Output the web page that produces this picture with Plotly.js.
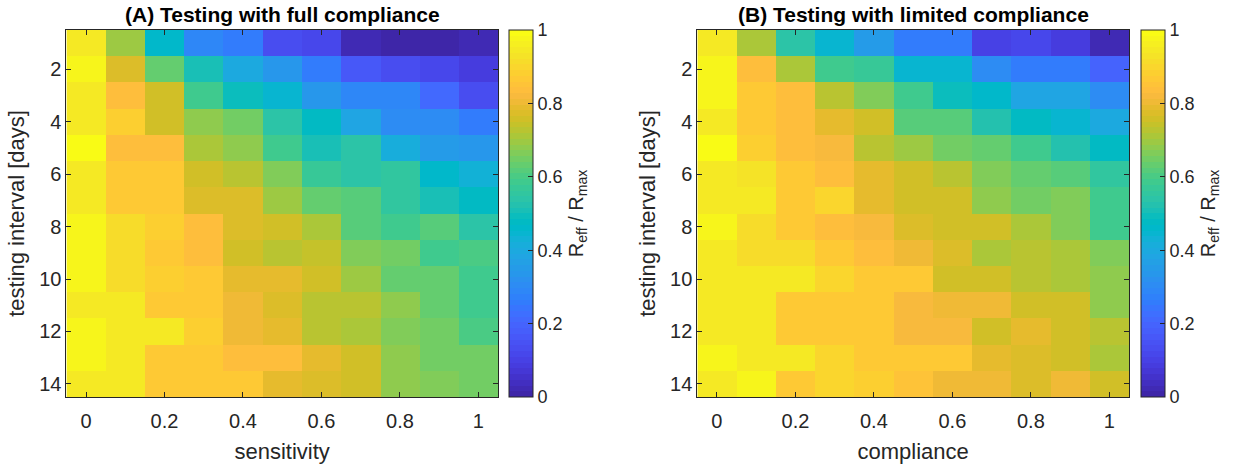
<!DOCTYPE html>
<html>
<head>
<meta charset="utf-8">
<script src="https://cdn.plot.ly/plotly-3.0.1.min.js"></script>
<style>html,body{margin:0;padding:0;background:#fff;}#chart{width:1250px;height:465px;}</style>
</head>
<body>
<div id="chart"></div>
<script>
// ---- data ----
const sensitivity = [0, 0.1, 0.2, 0.3, 0.4, 0.5, 0.6, 0.7, 0.8, 0.9, 1];
const compliance = [0, 0.1, 0.2, 0.3, 0.4, 0.5, 0.6, 0.7, 0.8, 0.9, 1];
const testingInterval = [1, 2, 3, 4, 5, 6, 7, 8, 9, 10, 11, 12, 13, 14];
const xTicks = [0, 0.2, 0.4, 0.6, 0.8, 1];
const yTicks = [2, 4, 6, 8, 10, 12, 14];
const cbTicks = [0, 0.2, 0.4, 0.6, 0.8, 1];

// R_eff / R_max, rows = testing interval 1..14, columns = sensitivity 0..1
const fullCompliance = [
  [0.94, 0.70, 0.46, 0.29, 0.26, 0.14, 0.11, 0.03, 0.00, 0.00, 0.03],
  [0.98, 0.78, 0.63, 0.51, 0.40, 0.33, 0.25, 0.16, 0.14, 0.12, 0.08],
  [0.95, 0.83, 0.75, 0.59, 0.49, 0.44, 0.33, 0.29, 0.29, 0.21, 0.14],
  [0.95, 0.88, 0.75, 0.68, 0.65, 0.54, 0.48, 0.38, 0.30, 0.31, 0.25],
  [1.00, 0.83, 0.83, 0.71, 0.68, 0.58, 0.51, 0.54, 0.41, 0.35, 0.33],
  [0.94, 0.87, 0.87, 0.76, 0.73, 0.67, 0.57, 0.54, 0.55, 0.46, 0.43],
  [0.94, 0.87, 0.87, 0.78, 0.78, 0.69, 0.63, 0.61, 0.55, 0.51, 0.48],
  [0.97, 0.92, 0.89, 0.83, 0.78, 0.76, 0.71, 0.62, 0.59, 0.62, 0.54],
  [0.98, 0.92, 0.87, 0.83, 0.76, 0.73, 0.74, 0.67, 0.65, 0.59, 0.60],
  [0.98, 0.92, 0.89, 0.86, 0.79, 0.79, 0.76, 0.70, 0.63, 0.63, 0.58],
  [0.95, 0.95, 0.87, 0.86, 0.81, 0.77, 0.73, 0.73, 0.68, 0.63, 0.58],
  [0.97, 0.95, 0.94, 0.89, 0.81, 0.79, 0.73, 0.71, 0.67, 0.65, 0.60],
  [0.97, 0.95, 0.87, 0.87, 0.83, 0.83, 0.79, 0.75, 0.68, 0.65, 0.65],
  [0.94, 0.94, 0.87, 0.87, 0.87, 0.79, 0.77, 0.75, 0.68, 0.67, 0.65]
];

// R_eff / R_max, rows = testing interval 1..14, columns = compliance 0..1
const limitedCompliance = [
  [0.94, 0.71, 0.54, 0.45, 0.35, 0.25, 0.25, 0.10, 0.12, 0.08, 0.03],
  [0.97, 0.83, 0.71, 0.59, 0.57, 0.44, 0.44, 0.30, 0.25, 0.25, 0.19],
  [0.98, 0.87, 0.83, 0.73, 0.67, 0.58, 0.49, 0.46, 0.39, 0.39, 0.30],
  [0.95, 0.87, 0.83, 0.79, 0.75, 0.62, 0.61, 0.52, 0.48, 0.44, 0.40],
  [0.99, 0.89, 0.83, 0.82, 0.72, 0.70, 0.65, 0.63, 0.59, 0.52, 0.48],
  [0.94, 0.93, 0.87, 0.83, 0.79, 0.75, 0.73, 0.67, 0.63, 0.62, 0.56],
  [0.95, 0.95, 0.87, 0.90, 0.79, 0.76, 0.75, 0.68, 0.65, 0.67, 0.59],
  [0.98, 0.92, 0.87, 0.83, 0.82, 0.77, 0.75, 0.76, 0.71, 0.67, 0.59],
  [0.95, 0.92, 0.92, 0.86, 0.84, 0.80, 0.78, 0.71, 0.73, 0.71, 0.67],
  [0.95, 0.95, 0.94, 0.90, 0.86, 0.86, 0.75, 0.75, 0.73, 0.71, 0.68],
  [0.95, 0.95, 0.87, 0.86, 0.86, 0.82, 0.81, 0.81, 0.75, 0.75, 0.68],
  [0.95, 0.95, 0.87, 0.87, 0.86, 0.82, 0.82, 0.76, 0.79, 0.75, 0.73],
  [0.97, 0.95, 0.95, 0.90, 0.87, 0.86, 0.86, 0.79, 0.77, 0.75, 0.71],
  [0.95, 0.97, 0.87, 0.90, 0.89, 0.85, 0.81, 0.81, 0.78, 0.80, 0.75]
];

// ---- parula colormap (64 entries) ----
const parula = [
[0.2422,0.1504,0.6603],[0.2504,0.1650,0.7076],[0.2578,0.1818,0.7511],[0.2647,0.1978,0.7952],
[0.2706,0.2147,0.8364],[0.2751,0.2342,0.8710],[0.2783,0.2559,0.8991],[0.2803,0.2782,0.9221],
[0.2813,0.3006,0.9414],[0.2810,0.3228,0.9579],[0.2795,0.3447,0.9717],[0.2760,0.3667,0.9829],
[0.2699,0.3892,0.9906],[0.2602,0.4123,0.9952],[0.2440,0.4358,0.9988],[0.2206,0.4603,0.9973],
[0.1963,0.4847,0.9892],[0.1834,0.5074,0.9798],[0.1786,0.5289,0.9682],[0.1764,0.5499,0.9520],
[0.1687,0.5703,0.9359],[0.1540,0.5902,0.9218],[0.1460,0.6091,0.9079],[0.1380,0.6276,0.8973],
[0.1248,0.6459,0.8883],[0.1113,0.6635,0.8763],[0.0952,0.6798,0.8598],[0.0689,0.6948,0.8394],
[0.0297,0.7082,0.8163],[0.0036,0.7203,0.7917],[0.0067,0.7312,0.7660],[0.0433,0.7411,0.7394],
[0.0964,0.7500,0.7120],[0.1408,0.7584,0.6842],[0.1717,0.7670,0.6554],[0.1938,0.7758,0.6251],
[0.2161,0.7843,0.5923],[0.2470,0.7918,0.5567],[0.2906,0.7973,0.5188],[0.3406,0.8008,0.4789],
[0.3909,0.8029,0.4354],[0.4456,0.8024,0.3909],[0.5044,0.7993,0.3480],[0.5616,0.7942,0.3045],
[0.6174,0.7876,0.2612],[0.6720,0.7793,0.2227],[0.7242,0.7698,0.1910],[0.7738,0.7598,0.1646],
[0.8203,0.7498,0.1535],[0.8634,0.7406,0.1596],[0.9035,0.7330,0.1774],[0.9393,0.7288,0.2100],
[0.9728,0.7298,0.2394],[0.9956,0.7434,0.2371],[0.9970,0.7659,0.2199],[0.9952,0.7893,0.2028],
[0.9892,0.8136,0.1885],[0.9786,0.8386,0.1766],[0.9676,0.8639,0.1643],[0.9610,0.8890,0.1537],
[0.9597,0.9135,0.1423],[0.9628,0.9373,0.1265],[0.9691,0.9606,0.1064],[0.9769,0.9839,0.0805]
];
// stepped colorscale (MATLAB-like discrete 64 bins)
const colorscale = [];
const N = parula.length;
parula.forEach((c, i) => {
  const col = 'rgb(' + c.map(v => Math.round(v * 255)).join(',') + ')';
  colorscale.push([i / N, col]);
  colorscale.push([(i + 1) / N, col]);
});

// ---- layout geometry (paper fractions) ----
const W = 1250, H = 465;
const yBot = 1 - 397 / H, yTop = 1 - 30 / H;
const domA = [66.4 / W, 498 / W];
const domB = [697.3 / W, 1129 / W];
const txt = '#262626';
const FONT = '"Liberation Sans", Arial, Helvetica, sans-serif';

function cbar(xpx) {
  return {
    x: xpx / W, xanchor: 'left', xref: 'paper',
    y: (yBot + yTop) / 2, yanchor: 'middle',
    len: yTop - yBot, lenmode: 'fraction',
    thickness: 24, thicknessmode: 'pixels',
    xpad: 0, ypad: 0,
    outlinewidth: 1, outlinecolor: txt,
    tickmode: 'array', tickvals: cbTicks, ticktext: cbTicks.map(String),
    ticks: 'inside', ticklen: 5, tickcolor: txt, tickwidth: 1,
    tickfont: {size: 18, color: txt, family: FONT},
    title: {text: 'R<sub>eff</sub> / R<sub>max</sub>', side: 'right', font: {size: 20, color: txt, family: FONT}}
  };
}

const traceA = {
  type: 'heatmap', x: sensitivity, y: testingInterval, z: fullCompliance,
  zmin: 0, zmax: 1, colorscale: colorscale, zsmooth: false,
  xaxis: 'x', yaxis: 'y', colorbar: cbar(509), hoverongaps: false
};
const traceB = {
  type: 'heatmap', x: compliance, y: testingInterval, z: limitedCompliance,
  zmin: 0, zmax: 1, colorscale: colorscale, zsmooth: false,
  xaxis: 'x2', yaxis: 'y2', colorbar: cbar(1141), hoverongaps: false
};

function xax(dom, anchor, title) {
  return {
    domain: dom, anchor: anchor, range: [-0.05, 1.05],
    tickmode: 'array', tickvals: xTicks, ticktext: xTicks.map(String),
    ticks: 'inside', ticklen: 5, tickcolor: txt, tickwidth: 1,
    ticklabelstandoff: 6,
    showline: true, linecolor: txt, linewidth: 1, mirror: 'ticks',
    showgrid: false, zeroline: false,
    tickfont: {size: 20, color: txt, family: FONT},
    title: {text: title, font: {size: 22, color: txt, family: FONT}, standoff: 12},
    automargin: false
  };
}
function yax(anchor) {
  return {
    domain: [yBot, yTop], anchor: anchor, range: [14.5, 0.5],
    tickmode: 'array', tickvals: yTicks, ticktext: yTicks.map(String),
    ticks: 'inside', ticklen: 5, tickcolor: txt, tickwidth: 1,
    showline: true, linecolor: txt, linewidth: 1, mirror: 'ticks',
    showgrid: false, zeroline: false,
    tickfont: {size: 20, color: txt, family: FONT},
    title: {text: 'testing interval [days]', font: {size: 22, color: txt, family: FONT}, standoff: 8},
    automargin: false
  };
}

const layout = {
  width: W, height: H,
  margin: {l: 0, r: 0, t: 0, b: 0},
  paper_bgcolor: '#ffffff', plot_bgcolor: '#ffffff',
  font: {family: FONT, color: txt},
  xaxis: xax(domA, 'y', 'sensitivity'),
  yaxis: yax('x'),
  xaxis2: xax(domB, 'y2', 'compliance'),
  yaxis2: yax('x2'),
  annotations: [
    {text: '<b>(A) Testing with full compliance</b>', xref: 'paper', yref: 'paper',
     x: (domA[0] + domA[1]) / 2, y: 1 - 14 / H, xanchor: 'center', yanchor: 'middle',
     showarrow: false, font: {size: 21, color: '#000000', family: FONT}},
    {text: '<b>(B) Testing with limited compliance</b>', xref: 'paper', yref: 'paper',
     x: (domB[0] + domB[1]) / 2, y: 1 - 14 / H, xanchor: 'center', yanchor: 'middle',
     showarrow: false, font: {size: 21, color: '#000000', family: FONT}}
  ],
  showlegend: false
};

Plotly.newPlot('chart', [traceA, traceB], layout, {staticPlot: true, displayModeBar: false});
</script>
</body>
</html>
